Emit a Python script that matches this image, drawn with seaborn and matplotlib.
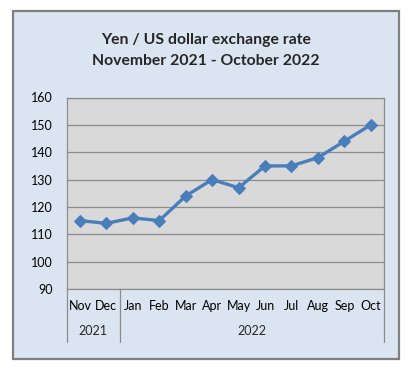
import numpy as np
import pandas as pd
import seaborn as sns
import matplotlib.pyplot as plt
from matplotlib.patches import Rectangle
import matplotlib.transforms as mtransforms

# data
months = ['Nov', 'Dec', 'Jan', 'Feb', 'Mar', 'Apr', 'May', 'Jun', 'Jul', 'Aug', 'Sep', 'Oct']
rates = [115, 114, 116, 115, 124, 130, 127, 135, 135, 138, 144, 150]
years = ['2021', '2022']
year_spans = [(0, 1), (2, 11)]  # first and last month index of each year
y_ticks = [90, 100, 110, 120, 130, 140, 150, 160]

df = pd.DataFrame({'month': months, 'rate': rates})

sns.set_style("white")
plt.rcParams['font.family'] = ['Lato', 'DejaVu Sans']

W, H = 413, 369
fig = plt.figure(figsize=(W / 100, H / 100), dpi=100)
fig.patch.set_facecolor('white')

# chart area with grey border (behind the axes)
fig.patches.append(Rectangle((13 / W, 1 - 359 / H), 386 / W, 348 / H, transform=fig.transFigure,
                             facecolor='#DBE5F1', edgecolor='#7F7F7F', linewidth=1.6, zorder=-10))

ax = fig.add_axes([66.7 / W, 1 - 289 / H, (384 - 66.7) / W, (289 - 97.5) / H])
ax.set_facecolor('#D9D9D9')

sns.lineplot(data=df, x='month', y='rate', sort=False, ax=ax, color='#4A7EBB', linewidth=2.4,
             marker='D', markersize=6, markeredgecolor='#4A7EBB', zorder=3)

ax.set_ylim(90, 160)
ax.set_yticks(y_ticks)
ax.set_xlim(-0.5, len(months) - 0.5)
ax.grid(axis='y', color='#8C8C8C', linewidth=0.9)
ax.set_axisbelow(True)
ax.set_xlabel('')
ax.set_ylabel('')
ax.tick_params(axis='both', length=0, labelsize=9, colors='black')
ax.tick_params(axis='y', pad=10)
ax.tick_params(axis='x', pad=8)
for s in ['top', 'left', 'bottom', 'right']:
    ax.spines[s].set_color('#8C8C8C')
    ax.spines[s].set_linewidth(0.9)

# year row and category separators below the axis
trans = mtransforms.blended_transform_factory(ax.transData, ax.transAxes)
for lab, (a, b) in zip(years, year_spans):
    ax.text((a + b) / 2, -0.22, lab, transform=trans, ha='center', va='center', fontsize=9)
for xs in [-0.5, 1.5, len(months) - 0.5]:
    ax.plot([xs, xs], [0, -0.277], transform=trans, color='#8C8C8C', linewidth=0.9, clip_on=False)

fig.text(206 / W, 1 - 40 / H, 'Yen / US dollar exchange rate', ha='center', va='center',
         fontsize=11.3, fontweight='bold')
fig.text(206 / W, 1 - 61 / H, 'November 2021 - October 2022', ha='center', va='center',
         fontsize=11.3, fontweight='bold')

fig.savefig('out.png', dpi=100)
